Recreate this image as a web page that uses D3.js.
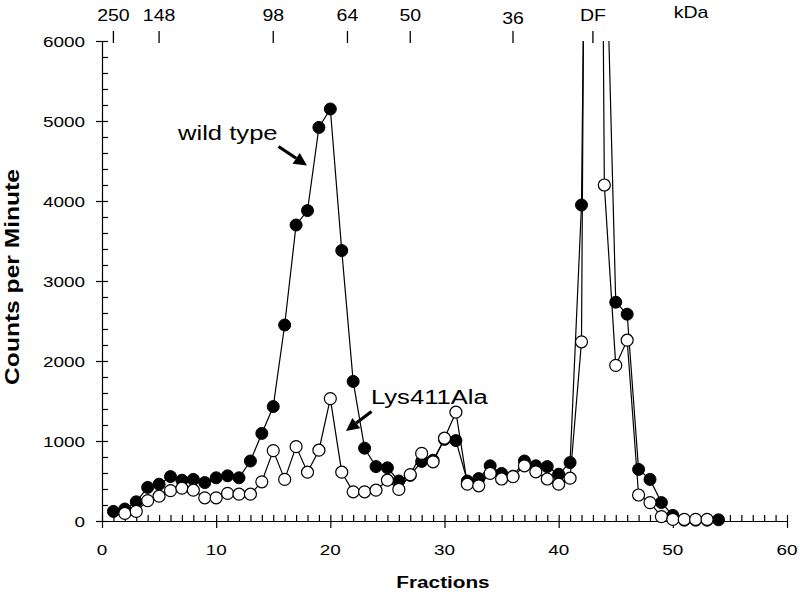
<!DOCTYPE html>
<html><head><meta charset="utf-8">
<script src="https://cdn.jsdelivr.net/npm/d3@7"></script>
<style>
html,body{margin:0;padding:0;background:#fff;}
text{font-family:"Liberation Sans",Arial,sans-serif;fill:#000;}
</style></head>
<body><svg id="c" width="800" height="605"></svg>
<script>
const wildFractions = d3.range(1, 55);
const wildValues = [120,150,240,420,460,555,510,520,480,540,565,540,750,1095,1430,2450,3700,3880,4920,5150,
  3380,1745,910,680,665,500,570,745,760,1020,1005,500,530,690,595,560,750,690,680,585,
  730,3950,17500,8200,2735,2585,645,520,230,70,10,10,10,15];
const mutFractions = d3.range(2, 54);
const mutValues = [95,120,255,310,380,410,385,290,290,345,335,335,490,880,520,930,610,885,1530,
  610,365,365,385,510,395,580,845,740,1035,1360,460,440,595,525,555,690,615,525,460,
  535,2240,25000,4200,1945,2260,325,230,55,20,20,20,20];
const markerFractions = [1,5,15,21.5,27,36,43];
const markerLabels = ["250","148","98","64","50","36","DF"];
const xTicks = [0,10,20,30,40,50,60];
const yTicks = [0,1000,2000,3000,4000,5000,6000];

const SX = 1.22;
const svg = d3.select("#c");
const x = d3.scaleLinear().domain([0,60]).range([102,787]);
const y = d3.scaleLinear().domain([0,6000]).range([521,41]);

function stext(g, tx, ty, str, opts={}) {
  const tf = opts.rot
    ? `translate(${tx},${ty}) rotate(${opts.rot}) scale(${opts.sx||SX},1)`
    : `translate(${tx},${ty}) scale(${opts.sx||SX},1)`;
  const t = g.append("text")
    .attr("transform", tf)
    .attr("text-anchor", opts.anchor || "start")
    .style("font-size", (opts.size||16)+"px")
    .style("font-weight", opts.bold ? "bold" : "normal")
    .text(str);
  if (opts.dy) t.attr("dy", opts.dy);
  return t;
}

svg.append("defs").append("clipPath").attr("id","clip")
  .append("rect").attr("x",90).attr("y",41).attr("width",710).attr("height",500);

// Axes
const yMinor = d3.range(0, 6001, 200);
svg.append("g").attr("transform",`translate(${x(0)},0)`)
  .call(d3.axisRight(y).tickValues(yMinor).tickSize(6).tickFormat(""))
  .call(g=>g.select(".domain").remove());
svg.append("g").attr("transform",`translate(${x(0)},0)`)
  .call(d3.axisLeft(y).tickValues(yTicks).tickSize(6).tickSizeOuter(0).tickFormat(""));
const xMinor = d3.range(0, 61, 1);
svg.append("g").attr("transform",`translate(0,${y(0)})`)
  .call(d3.axisTop(x).tickValues(xMinor).tickSize(6).tickFormat(""))
  .call(g=>g.select(".domain").remove());
svg.append("g").attr("transform",`translate(0,${y(0)})`)
  .call(d3.axisBottom(x).tickValues(xTicks).tickSize(7).tickSizeOuter(0).tickFormat(""));
svg.selectAll(".tick line, .domain").attr("stroke","#000").attr("stroke-width",1.2);

const lab = svg.append("g");
yTicks.forEach(v => stext(lab, 85, y(v), d3.format("d")(v), {anchor:"end", size:15.5, dy:"0.36em"}));
xTicks.forEach(v => stext(lab, x(v), 555, String(v), {anchor:"middle", size:15.5}));

// axis titles
stext(lab, 443, 588, "Fractions", {anchor:"middle", size:17, bold:true});
stext(lab, 19, 277, "Counts per Minute", {anchor:"middle", size:20, bold:true, rot:-90, sx:1.23});

// top kDa markers
markerFractions.forEach((f,i) => {
  svg.append("line").attr("x1",x(f)).attr("x2",x(f)).attr("y1",31).attr("y2",43)
    .attr("stroke","#000").attr("stroke-width",1.3);
  const by = markerLabels[i]==="36" ? 24 : 21;
  stext(lab, x(f), by, markerLabels[i], {anchor:"middle", size:16});
});
stext(lab, 691, 18, "kDa", {anchor:"middle", size:16});

// series
const line = d3.line().x(d=>x(d[0])).y(d=>y(d[1]));
const wild = wildFractions.map((f,i)=>[f, wildValues[i]]);
const mut = mutFractions.map((f,i)=>[f, mutValues[i]]);
const plot = svg.append("g").attr("clip-path","url(#clip)");
plot.append("path").datum(wild).attr("d",line).attr("fill","none").attr("stroke","#000").attr("stroke-width",1.2);
plot.append("path").datum(mut).attr("d",line).attr("fill","none").attr("stroke","#000").attr("stroke-width",1.2);
plot.selectAll("circle.w").data(wild.filter(d=>d[1]<=6000)).join("circle").attr("class","w")
  .attr("cx",d=>x(d[0])).attr("cy",d=>y(d[1])).attr("r",6).attr("fill","#000").attr("stroke","#000");
plot.selectAll("circle.m").data(mut.filter(d=>d[1]<=6000)).join("circle").attr("class","m")
  .attr("cx",d=>x(d[0])).attr("cy",d=>y(d[1])).attr("r",6).attr("fill","#fff").attr("stroke","#000").attr("stroke-width",1.2);

// annotations
stext(lab, 178, 139.5, "wild type", {size:21});
stext(lab, 371, 404, "Lys411Ala", {size:21});
function arrow(x1,y1,x2,y2){
  const ang = Math.atan2(y2-y1, x2-x1);
  const hl = 13, hw = 6.5;
  const bx = x2 - hl*Math.cos(ang), by = y2 - hl*Math.sin(ang);
  svg.append("line").attr("x1",x1).attr("y1",y1).attr("x2",bx).attr("y2",by)
    .attr("stroke","#000").attr("stroke-width",3.2);
  const px = -Math.sin(ang)*hw, py = Math.cos(ang)*hw;
  svg.append("path").attr("d",`M${x2},${y2}L${bx+px},${by+py}L${bx-px},${by-py}Z`).attr("fill","#000");
}
arrow(278.5,146.5,307,165.5);
arrow(371.5,411.5,346,431);
</script></body></html>
